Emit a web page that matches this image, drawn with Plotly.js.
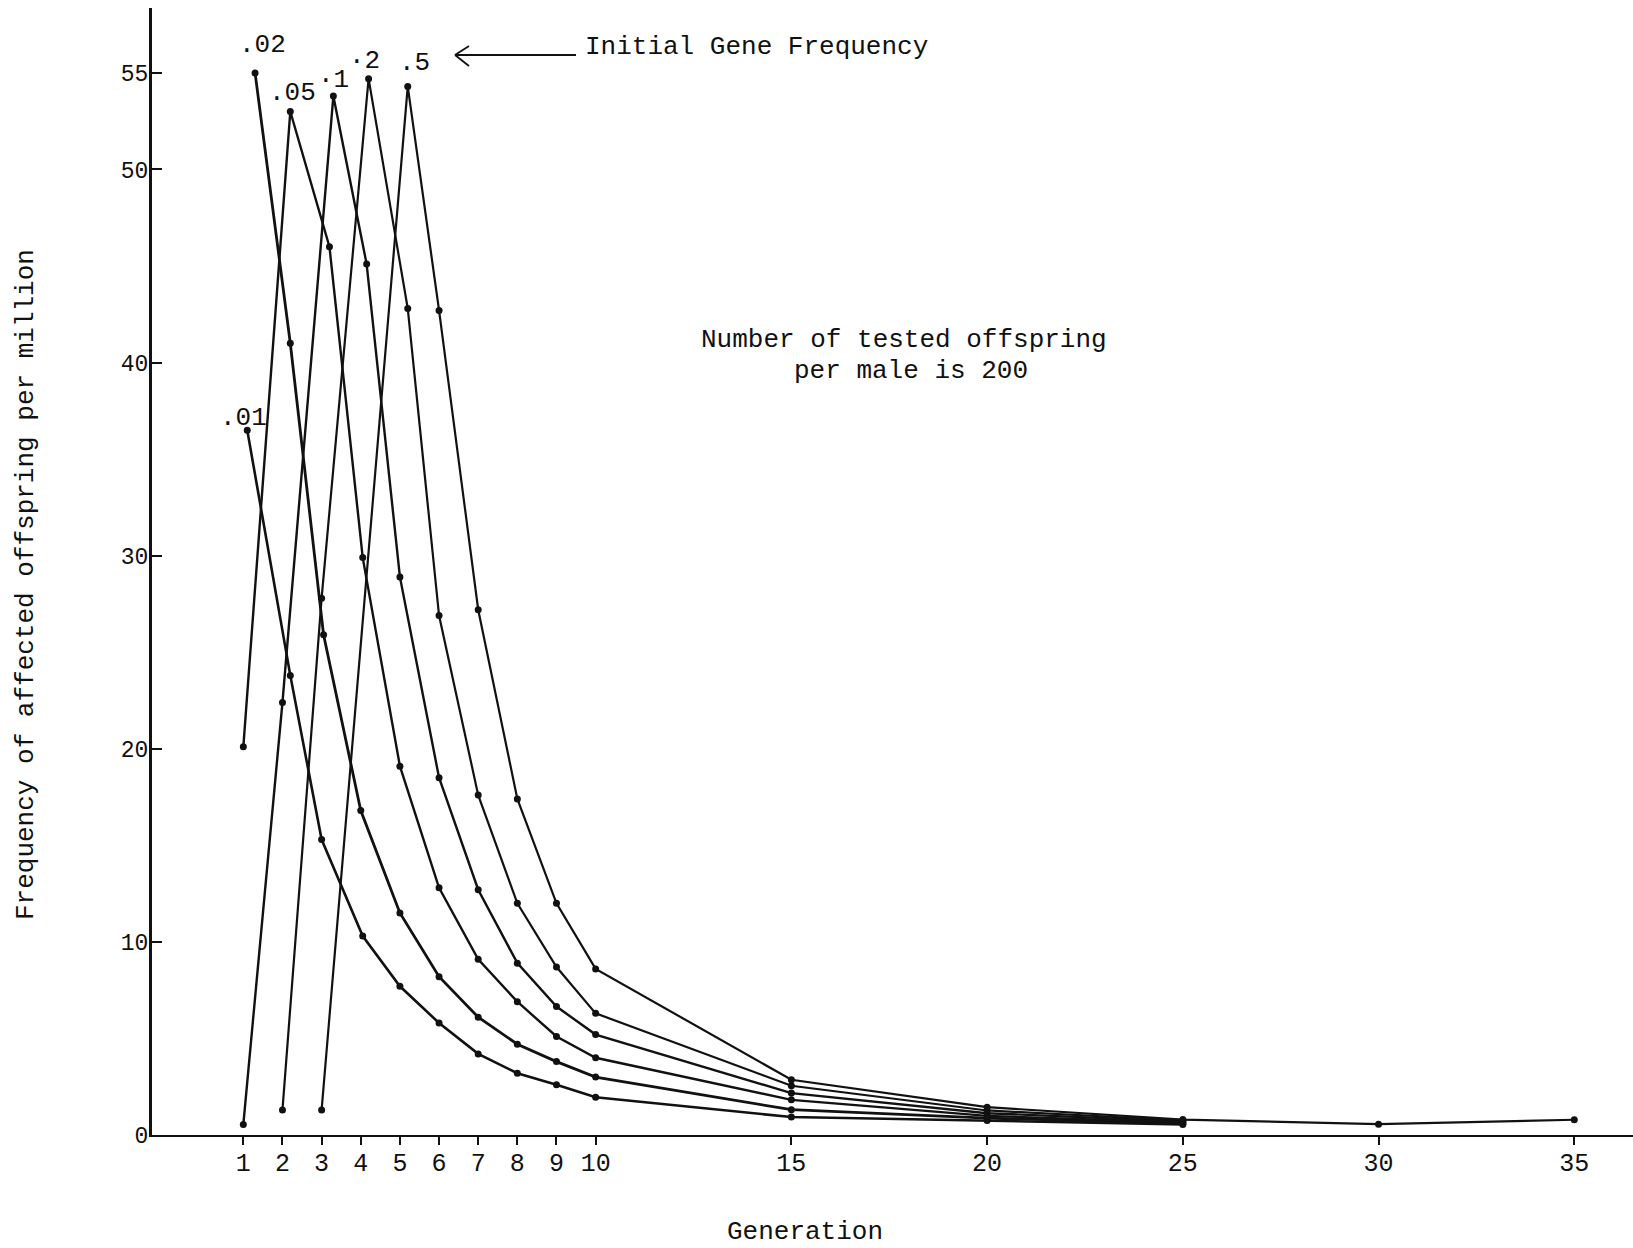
<!DOCTYPE html>
<html>
<head>
<meta charset="utf-8">
<script src="https://cdn.plot.ly/plotly-3.0.1.min.js"></script>
<style>
html,body{margin:0;padding:0;background:#ffffff;}
#chart{width:1633px;height:1248px;}
</style>
</head>
<body>
<div id="chart"></div>
<script>
// ---- data (generation, affected offspring per million) ----
const genQ01  = [1.1, 2.2, 3, 4.05, 5, 6, 7, 8, 9, 10, 15, 20, 25];
const freqQ01 = [36.5, 23.8, 15.3, 10.3, 7.7, 5.8, 4.2, 3.2, 2.6, 1.95, 0.93, 0.75, 0.55];

const genQ02  = [1.3, 2.2, 3.05, 4, 5, 6, 7, 8, 9, 10, 15, 20, 25];
const freqQ02 = [55.0, 41.0, 25.9, 16.8, 11.5, 8.2, 6.1, 4.7, 3.8, 3.0, 1.31, 0.87, 0.6];

const genQ05  = [1, 2.2, 3.2, 4.05, 5, 6, 7, 8, 9, 10, 15, 20, 25];
const freqQ05 = [20.1, 53.0, 46.0, 29.9, 19.1, 12.8, 9.1, 6.9, 5.1, 4.0, 1.82, 0.99, 0.65];

const genQ1   = [1, 2, 3.3, 4.15, 5, 6, 7, 8, 9, 10, 15, 20, 25];
const freqQ1  = [0.55, 22.4, 53.8, 45.1, 28.9, 18.5, 12.7, 8.9, 6.65, 5.2, 2.17, 1.13, 0.7];

const genQ2   = [2, 3, 4.2, 5.2, 6, 7, 8, 9, 10, 15, 20, 25];
const freqQ2  = [1.3, 27.8, 54.7, 42.8, 26.9, 17.6, 12.0, 8.7, 6.3, 2.55, 1.27, 0.75];

const genQ5   = [3, 5.2, 6, 7, 8, 9, 10, 15, 20, 25, 30, 35];
const freqQ5  = [1.3, 54.3, 42.7, 27.2, 17.4, 12.0, 8.6, 2.86, 1.44, 0.8, 0.56, 0.79];

const seriesNames = ['.01', '.02', '.05', '.1', '.2', '.5'];
const xTickValues = [1, 2, 3, 4, 5, 6, 7, 8, 9, 10, 15, 20, 25, 30, 35];
const xTickLabels = ['1', '2', '3', '4', '5', '6', '7', '8', '9', '10', '15', '20', '25', '30', '35'];
const yTickValues = [0, 10, 20, 30, 40, 50, 55];
const yTickLabels = ['0', '10', '20', '30', '40', '50', '55'];

// ---- layout geometry ----
const W = 1633, H = 1248, L = 152, R = 0, T = 8, B = 113;
const PW = W - L - R, PH = H - T - B;
function px(x) { return (x - L) / PW; }
function py(y) { return (H - B - y) / PH; }

const FONT = 'Liberation Mono, Courier New, monospace';

const seriesX = [genQ01, genQ02, genQ05, genQ1, genQ2, genQ5];
const seriesY = [freqQ01, freqQ02, freqQ05, freqQ1, freqQ2, freqQ5];
const widths = [2.6, 2.8, 2.4, 2.4, 2.2, 2.2];

const traces = seriesX.map((xs, i) => ({
  type: 'scatter',
  mode: 'lines+markers',
  name: seriesNames[i],
  x: xs,
  y: seriesY[i],
  line: {color: '#111111', width: widths[i]},
  marker: {color: '#111111', size: 7, symbol: 'circle'},
  cliponaxis: false,
  showlegend: false
}));

const labelPos = [[243, 418], [262, 45], [292, 93], [333, 80], [364, 61], [414, 63]];
const labelText = ['.01', '.02', '.05', '·1', '·2', '.5'];

const annotations = labelText.map((t, i) => ({
  xref: 'paper', yref: 'paper',
  x: px(labelPos[i][0]), y: py(labelPos[i][1]),
  xanchor: 'center', yanchor: 'middle',
  text: t, showarrow: false,
  font: {family: FONT, size: 26, color: '#111111'}
}));

annotations.push(
  {xref: 'paper', yref: 'paper', x: px(583), y: py(47), xanchor: 'left', yanchor: 'middle',
   text: 'Initial Gene Frequency', showarrow: false,
   font: {family: FONT, size: 26, color: '#111111'}},
  {xref: 'paper', yref: 'paper', x: px(904), y: py(340), xanchor: 'center', yanchor: 'middle',
   text: 'Number of tested offspring', showarrow: false,
   font: {family: FONT, size: 26, color: '#111111'}},
  {xref: 'paper', yref: 'paper', x: px(911), y: py(371), xanchor: 'center', yanchor: 'middle',
   text: 'per male is 200', showarrow: false,
   font: {family: FONT, size: 26, color: '#111111'}},
  {xref: 'paper', yref: 'paper', x: px(805), y: py(1232), xanchor: 'center', yanchor: 'middle',
   text: 'Generation', showarrow: false,
   font: {family: FONT, size: 26, color: '#111111'}},
  {xref: 'paper', yref: 'paper', x: px(26), y: py(585), xanchor: 'center', yanchor: 'middle',
   text: 'Frequency of affected offspring per million', textangle: -90, showarrow: false,
   font: {family: FONT, size: 26, color: '#111111'}}
);

const shapes = [
  {type: 'line', xref: 'paper', yref: 'paper', x0: px(455), y0: py(55), x1: px(576), y1: py(55),
   line: {color: '#111111', width: 1.8}},
  {type: 'line', xref: 'paper', yref: 'paper', x0: px(455), y0: py(55), x1: px(469), y1: py(46),
   line: {color: '#111111', width: 1.8}},
  {type: 'line', xref: 'paper', yref: 'paper', x0: px(455), y0: py(55), x1: px(469), y1: py(66),
   line: {color: '#111111', width: 1.8}}
];

const layout = {
  width: W, height: H,
  margin: {l: L, r: R, t: T, b: B, pad: 0},
  paper_bgcolor: '#ffffff',
  plot_bgcolor: '#ffffff',
  showlegend: false,
  font: {family: FONT, color: '#111111'},
  xaxis: {
    range: [-1.333, 36.5],
    tickmode: 'array', tickvals: xTickValues, ticktext: xTickLabels,
    ticks: 'outside', ticklen: 8, tickwidth: 2, tickcolor: '#111111',
    showline: true, linecolor: '#111111', linewidth: 2,
    showgrid: false, zeroline: false,
    tickfont: {family: FONT, size: 25, color: '#111111'},
    ticklabelstandoff: -4,
    fixedrange: true
  },
  yaxis: {
    range: [0, 58.36],
    tickmode: 'array', tickvals: yTickValues, ticktext: yTickLabels,
    ticks: 'inside', ticklen: 10, tickwidth: 2, tickcolor: '#111111',
    showline: true, linecolor: '#111111', linewidth: 3,
    showgrid: false, zeroline: false,
    tickfont: {family: FONT, size: 23, color: '#111111'},
    ticklabelstandoff: -4,
    fixedrange: true
  },
  annotations: annotations,
  shapes: shapes
};

Plotly.newPlot('chart', traces, layout, {staticPlot: true, displayModeBar: false});
</script>
</body>
</html>
